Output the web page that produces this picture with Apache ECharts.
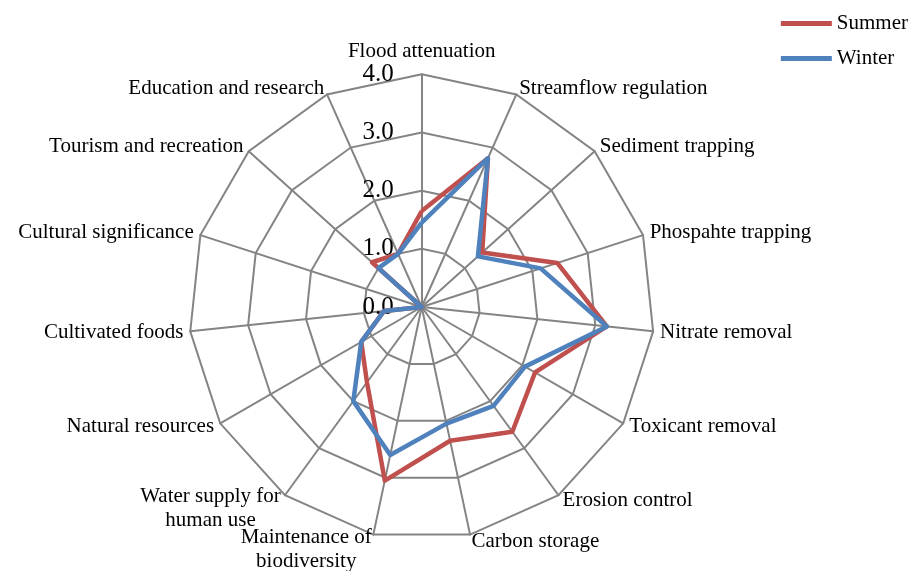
<!DOCTYPE html>
<html>
<head>
<meta charset="utf-8">
<script src="https://cdn.jsdelivr.net/npm/echarts@6/dist/echarts.min.js"></script>
<style>
  html, body { margin: 0; padding: 0; background: #fff; }
  #chart { width: 913px; height: 571px; }
</style>
</head>
<body>
<div id="chart"></div>
<script>
// indicators, clockwise from the top
const indicators = [
  "Flood attenuation",
  "Streamflow regulation",
  "Sediment trapping",
  "Phospahte trapping",
  "Nitrate removal",
  "Toxicant removal",
  "Erosion control",
  "Carbon storage",
  "Maintenance of\nbiodiversity",
  "Water supply for\nhuman use",
  "Natural resources",
  "Cultivated foods",
  "Cultural significance",
  "Tourism and recreation",
  "Education and research",
];
const summer = [1.65, 2.8, 1.4, 2.45, 3.2, 2.25, 2.65, 2.35, 3.05, 1.6, 1.2, 0.65, 0, 1.15, 1.0];
const winter = [1.45, 2.8, 1.3, 2.15, 3.2, 2.05, 2.1, 2.05, 2.6, 2.0, 1.2, 0.65, 0, 1.0, 1.0];
const maxValue = 4;

const serif = "Liberation Serif";

// echarts lays indicators out counter-clockwise, so keep the first one on top
// and walk the rest backwards
const order = [0];
for (let i = indicators.length - 1; i > 0; i--) order.push(i);
const pick = (arr) => order.map((i) => arr[i]);

const myChart = echarts.init(document.getElementById("chart"));

const indicatorList = order.map((i) => {
  const item = { name: indicators[i], max: maxValue, min: 0 };
  if (i === 0) {
    // only the top axis carries the scale labels
    item.axisLabel = {
      show: true,
      color: "#000",
      fontFamily: serif,
      fontSize: 25,
      margin: 28,
      formatter: (v) => v.toFixed(1),
    };
  }
  return item;
});

// two-line names sit a bit lower than one-line ones
function nameFormatter(name) {
  const lines = name.split("\n");
  if (lines.length === 1) return "{c|" + name + "}";
  return "{t|" + lines[0] + "}\n{b|" + lines[1] + "}";
}

const nameFont = { fontFamily: serif, fontSize: 21, color: "#000", align: "center" };

const myOption = {
  animation: false,
  legend: {
    orient: "vertical",
    right: 0,
    top: 8,
    itemWidth: 51,
    itemHeight: 5,
    itemGap: 14,
    icon: "rect",
    textStyle: { fontFamily: serif, fontSize: 21, color: "#000" },
    data: ["Summer", "Winter"],
  },
  radar: {
    center: [421.7, 307],
    radius: 232.7,
    startAngle: 90,
    splitNumber: 4,
    shape: "polygon",
    nameGap: 7,
    axisName: {
      color: "#000",
      fontFamily: serif,
      fontSize: 21,
      formatter: nameFormatter,
      rich: {
        c: Object.assign({ lineHeight: 24 }, nameFont),
        t: Object.assign({ lineHeight: 40 }, nameFont),
        b: Object.assign({ lineHeight: 8 }, nameFont),
      },
    },
    axisLine: { lineStyle: { color: "#848484", width: 2 } },
    splitLine: { lineStyle: { color: "#848484", width: 2 } },
    splitArea: { show: false },
    axisTick: { show: false },
    axisLabel: { show: false },
    indicator: indicatorList,
  },
  series: [
    {
      type: "radar",
      symbol: "none",
      data: [
        {
          name: "Summer",
          value: pick(summer),
          lineStyle: { color: "#C0504D", width: 4.5 },
          itemStyle: { color: "#C0504D" },
        },
        {
          name: "Winter",
          value: pick(winter),
          lineStyle: { color: "#4F81BD", width: 4.5 },
          itemStyle: { color: "#4F81BD" },
        },
      ],
    },
  ],
};

myChart.setOption(myOption);
</script>
</body>
</html>
